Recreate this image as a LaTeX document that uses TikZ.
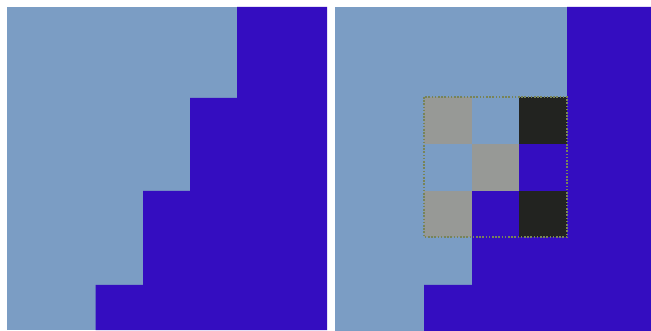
\documentclass[tikz,border=0pt]{standalone}
\usepackage{xcolor}
\definecolor{paleblue}{RGB}{123,157,196}
\definecolor{deepblue}{RGB}{52,13,192}
\definecolor{midgray}{RGB}{151,153,150}
\definecolor{nearblack}{RGB}{34,35,32}
\definecolor{dotline}{RGB}{120,132,88}

\begin{document}
\begin{tikzpicture}[
  x=1pt, y=-1pt,
  pale/.style={fill=paleblue},
  deep/.style={fill=deepblue},
  cellg/.style={fill=midgray},
  cellk/.style={fill=nearblack},
  selbox/.style={draw=dotline, line width=1.6pt, dash pattern=on 1.6pt off 1.6pt}
]
\useasboundingbox[fill=white] (0,0) rectangle (651,331);
% left panel: staircase edge
\fill[pale] (7,7) rectangle (327,330);
\fill[deep] (237,7) -- (327,7) -- (327,330) -- (95.5,330) -- (95.5,285)
  -- (143,285) -- (143,191) -- (190,191) -- (190,98) -- (237,98) -- cycle;
% right panel: same edge, 3x3 block picked out
\fill[pale] (335,7) rectangle (651,331);
\fill[deep] (567,7) -- (651,7) -- (651,331) -- (424,331) -- (424,285)
  -- (472,285) -- (472,237) -- (519,237) -- (519,191) -- (567,191) -- cycle;
\fill[cellg] (424,97) rectangle (472,144);
\fill[pale]  (472,97) rectangle (519,144);
\fill[cellk] (519,97) rectangle (567,144);
\fill[pale]  (424,144) rectangle (472,191);
\fill[cellg] (472,144) rectangle (519,191);
\fill[deep]  (519,144) rectangle (567,191);
\fill[cellg] (424,191) rectangle (472,237);
\fill[deep]  (472,191) rectangle (519,237);
\fill[cellk] (519,191) rectangle (567,237);
\draw[selbox] (424,97) rectangle (567,237);
\end{tikzpicture}
\end{document}
